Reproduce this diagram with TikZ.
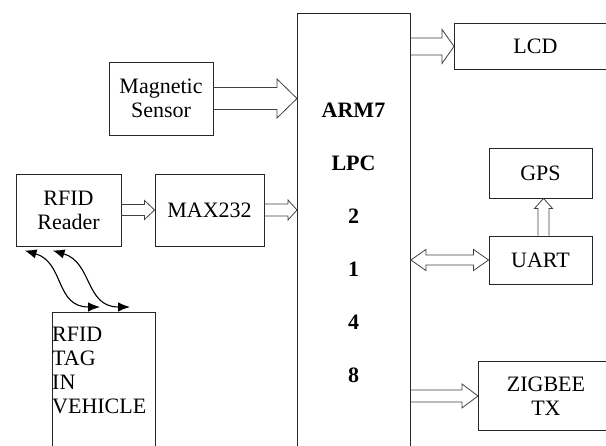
\documentclass[tikz,border=0pt]{standalone}
\usepackage{fontspec}
\setmainfont{Liberation Serif}
\usetikzlibrary{calc,arrows.meta}
\newcommand\rarrow[5]{\draw[blk] let \p1=(#1), \p2=(#2) in (\x1,\y1+#3) -- (\x2-#5,\y1+#3) -- (\x2-#5,\y1+#4) -- (\x2,\y1) -- (\x2-#5,\y1-#4) -- (\x2-#5,\y1-#3) -- (\x1,\y1-#3);}
\newcommand\darrow[5]{\draw[blk] let \p1=(#1), \p2=(#2) in (\x1,\y1) -- (\x1+#5,\y1+#4) -- (\x1+#5,\y1+#3) -- (\x2-#5,\y1+#3) -- (\x2-#5,\y1+#4) -- (\x2,\y1) -- (\x2-#5,\y1-#4) -- (\x2-#5,\y1-#3) -- (\x1+#5,\y1-#3) -- (\x1+#5,\y1-#4) -- cycle;}
\newcommand\uarrow[5]{\draw[blk] let \p1=(#1), \p2=(#2) in (\x1+#3,\y1) -- (\x1+#3,\y2-#5) -- (\x1+#4,\y2-#5) -- (\x1,\y2) -- (\x1-#4,\y2-#5) -- (\x1-#3,\y2-#5) -- (\x1-#3,\y1);}
\begin{document}
\begin{tikzpicture}[x=1pt,y=-1pt,
  box/.style={draw=black!85, line width=0.9pt, inner sep=0pt, align=center, font=\fontsize{22}{24}\selectfont},
  blk/.style={draw=black!75, line width=0.8pt, line join=miter},
  wave/.style={black, line width=1.1pt, {Latex[length=12pt,width=9.5pt]}-{Latex[length=12pt,width=9.5pt]}}]
\useasboundingbox (0,0) rectangle (606,446);
\clip (0,0) rectangle (606,446);
% boxes
\node[box, anchor=north west, minimum width=113pt, minimum height=500pt] (arm) at (297,13) {};
\node[font=\fontsize{22}{53}\selectfont\bfseries, align=center, inner sep=0pt] (armtxt) at (353.5,243) {ARM7\\LPC\\2\\1\\4\\8};
\node[box, minimum width=104pt, minimum height=73pt] (mag) at (161,98.5) {Magnetic\\Sensor};
\node[box, minimum width=105pt, minimum height=72pt] (reader) at (68.5,210) {RFID\\Reader};
\node[box, minimum width=109pt, minimum height=72pt] (max) at (209.5,210) {MAX232};
\node[box, anchor=north west, minimum width=103pt, minimum height=200pt] (tag) at (52,312) {};
\node[anchor=north west, inner sep=0pt, align=left, font=\fontsize{22}{24}\selectfont] (tagtxt) at (52,327) {RFID\\TAG\\IN\\VEHICLE};
\node[box, anchor=north west, minimum width=162pt, minimum height=46pt] (lcd) at (454,23) {LCD};
\node[box, minimum width=103pt, minimum height=50pt] (gps) at (540.5,173) {GPS};
\node[box, minimum width=103pt, minimum height=48pt] (uart) at (540.5,260) {UART};
\node[box, anchor=north west, minimum width=135pt, minimum height=69pt] (zig) at (478,361) {ZIGBEE\\TX};
% block arrows
\rarrow{mag.east}{arm.west |- mag.east}{11pt}{19.5pt}{20pt}
\rarrow{reader.east}{max.west}{5.5pt}{9.5pt}{10pt}
\rarrow{max.east}{arm.west |- max.east}{6pt}{10pt}{9pt}
\rarrow{arm.east |- lcd.west}{lcd.west}{8.5pt}{17pt}{12pt}
\darrow{arm.east |- uart.west}{uart.west}{5pt}{10.5pt}{15pt}
\rarrow{arm.east |- zig.west}{zig.west}{6pt}{12pt}{16pt}
\uarrow{$(uart.north)+(3,0)$}{gps.south}{5.5pt}{9pt}{10pt}
% wireless links
\coordinate (r1) at ($(reader.south west)+(9,4)$);
\coordinate (r2) at ($(reader.south west)+(37,4)$);
\coordinate (t1) at ($(tag.north west)+(48,-5)$);
\coordinate (t2) at ($(tag.north west)+(78,-5)$);
\draw[wave] (r1) .. controls +(40,12) and +(-45,0) .. (t1);
\draw[wave] (r2) .. controls +(40,12) and +(-45,0) .. (t2);
\end{tikzpicture}
\end{document}
